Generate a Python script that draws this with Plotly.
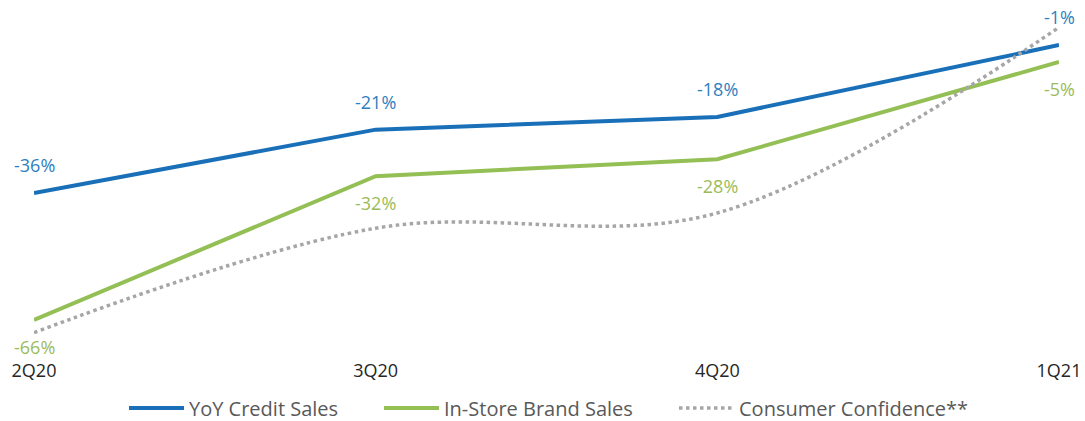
import plotly.graph_objects as go

quarters = ["2Q20", "3Q20", "4Q20", "1Q21"]
credit_sales = [-36, -21, -18, -1]
brand_sales = [-66, -32, -28, -5]
consumer_conf = [-69, -44.3, -40.7, 3.2]

credit_labels = [f"{v}%" for v in credit_sales]
brand_labels = [f"{v}%" for v in brand_sales]

BLUE = "#1A70B8"
GREEN = "#93BF55"
GRAY = "#A6A6A6"
BLUE_TXT = "#2E80C0"
GREEN_TXT = "#9BBB59"
FONT = "'Open Sans', sans-serif"

fig = go.Figure()
fig.add_trace(go.Scatter(
    x=quarters, y=credit_sales, name="YoY Credit Sales",
    mode="lines", line=dict(color=BLUE, width=4), cliponaxis=False,
    legend="legend",
))
fig.add_trace(go.Scatter(
    x=quarters, y=brand_sales, name="In-Store Brand Sales",
    mode="lines", line=dict(color=GREEN, width=4), cliponaxis=False,
    legend="legend2",
))
fig.add_trace(go.Scatter(
    x=quarters, y=consumer_conf, name="Consumer Confidence**",
    mode="lines", line=dict(color=GRAY, width=3.5, dash="dot", shape="spline", smoothing=1),
    cliponaxis=False, legend="legend3",
))

annotations = []
for q, v, t in zip(quarters, credit_sales, credit_labels):
    annotations.append(dict(x=q, y=v, text=t, showarrow=False, yshift=28,
                            font=dict(color=BLUE_TXT, size=18, family=FONT)))
for q, v, t in zip(quarters, brand_sales, brand_labels):
    annotations.append(dict(x=q, y=v, text=t, showarrow=False, yshift=-27,
                            font=dict(color=GREEN_TXT, size=18, family=FONT)))

def legend_at(px):
    return dict(orientation="h", xref="container", x=px / 1085, xanchor="left",
                yref="container", y=(421 - 408) / 421, yanchor="middle",
                font=dict(size=20, color="#595959", family=FONT),
                itemwidth=55, bgcolor="rgba(0,0,0,0)")

fig.update_layout(
    width=1085, height=421,
    margin=dict(l=34, r=26, t=7, b=63),
    paper_bgcolor="white", plot_bgcolor="white",
    font=dict(family=FONT, color="#595959"),
    showlegend=True,
    annotations=annotations,
    legend=legend_at(124),
    legend2=legend_at(379),
    legend3=legend_at(674),
    xaxis=dict(type="category", range=[0, 3], showgrid=False, zeroline=False,
               showline=False, ticks="", automargin=False, ticklabelstandoff=0,
               tickfont=dict(size=18, color="#262626", family=FONT)),
    yaxis=dict(range=[-75, 8], visible=False, showgrid=False, zeroline=False,
               automargin=False),
)

fig.write_html("out.html")
